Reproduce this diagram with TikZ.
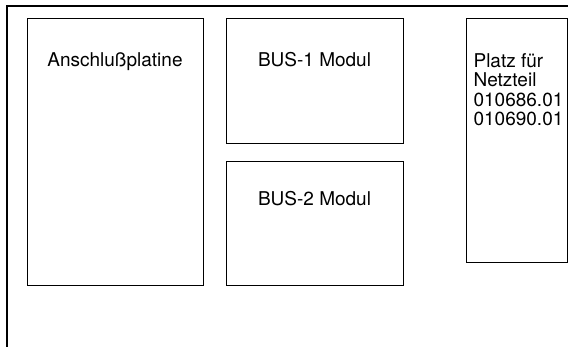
\documentclass[tikz,border=0pt]{standalone}
\usepackage{fontspec}
\setmainfont{TeX Gyre Heros}
\usetikzlibrary{positioning}

\tikzset{
  platine/.style={draw, rectangle, anchor=north west, inner sep=0pt},
  beschr/.style={anchor=base, inner sep=0pt, font=\fontsize{19}{19.5}\selectfont}
}

\begin{document}
\begin{tikzpicture}[x=1pt, y=-1pt, line width=1.2pt]

  \useasboundingbox (0,0) rectangle (568,347);

  \begin{scope}

  % Gehaeuse
  \draw (568,6) -- (7,6) -- (7,347);

  \node[platine, minimum width=176pt, minimum height=267pt] (anschluss) at (27,18) {};
  \node[platine, minimum width=177pt, minimum height=125pt] (bus1) at (226,18) {};
  \node[platine, minimum width=177pt, minimum height=124pt] (bus2) at (226,161) {};
  \node[platine, minimum width=101pt, minimum height=244pt] (netzteil) at (466,18) {};

  \node[beschr] (anschlusstxt) at (115,67) {Anschlußplatine};
  \node[beschr] (bus1txt) at (314.5,67) {BUS-1 Modul};
  \node[beschr] (bus2txt) at (314.5,206) {BUS-2 Modul};
  % Grundlinie der letzten Zeile
  \node[beschr, anchor=base west, align=left] (netzteiltxt) at (473,126)
    {Platz für\\Netzteil\\010686.01\\010690.01};

  \end{scope}

\end{tikzpicture}
\end{document}
